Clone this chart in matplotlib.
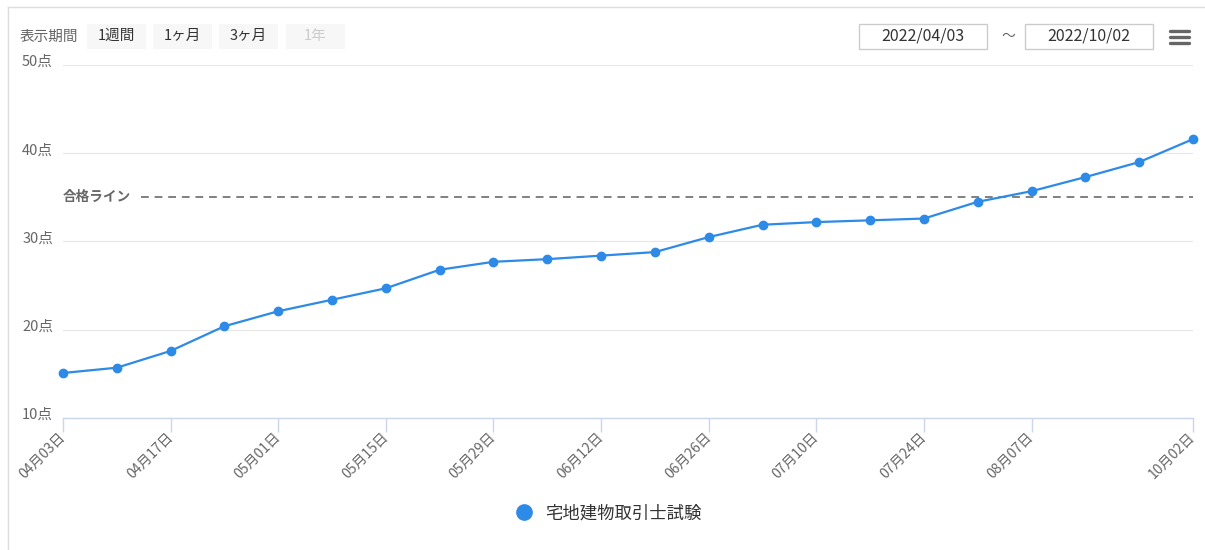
import matplotlib
matplotlib.use('Agg')
import matplotlib.pyplot as plt
from matplotlib.patches import Rectangle
from matplotlib.lines import Line2D

plt.rcParams['font.family'] = ['Noto Sans CJK JP', 'DejaVu Sans']

# data
dates = ['04月03日', '04月10日', '04月17日', '04月24日', '05月01日', '05月08日',
         '05月15日', '05月22日', '05月29日', '06月05日', '06月12日', '06月19日',
         '06月26日', '07月03日', '07月10日', '07月17日', '07月24日', '07月31日',
         '08月07日', '08月14日', '09月18日', '10月02日']
scores = [15.1, 15.7, 17.6, 20.4, 22.1, 23.4, 24.7, 26.8, 27.7, 28.0, 28.4,
          28.8, 30.5, 31.9, 32.2, 32.4, 32.6, 34.5, 35.7, 37.3, 39.0, 41.6]
label_idx = [0, 2, 4, 6, 8, 10, 12, 14, 16, 18, 21]
y_ticks = [10, 20, 30, 40, 50]
pass_line = 35
series_name = '宅地建物取引士試験'
periods = ['1週間', '1ヶ月', '3ヶ月', '1年']
start_date = '2022/04/03'
end_date = '2022/10/02'

W, H = 1205, 550
fig = plt.figure(figsize=(W / 100, H / 100), dpi=100)


def fx(px):
    return px / W


def fy(py):
    return 1 - py / H


ax = fig.add_axes([fx(63), fy(418), fx(1193) - fx(63), fy(65) - fy(418)])
blue = '#2d8ae6'
ax.plot(range(len(scores)), scores, color=blue, lw=1.6, marker='o',
        markersize=6, zorder=3, clip_on=False)
ax.set_xlim(0, len(scores) - 1)
ax.set_ylim(10, 50)
ax.set_yticks(y_ticks)
ax.set_yticklabels([])
ax.tick_params(axis='y', length=0)
ax.grid(axis='y', color='#e6e6e6', lw=0.8)
ax.set_axisbelow(True)
for s in ['top', 'right', 'left']:
    ax.spines[s].set_visible(False)
ax.spines['bottom'].set_color('#ccd6eb')
ax.spines['bottom'].set_linewidth(1)
ax.set_xticks(label_idx)
ax.set_xticklabels([dates[i] for i in label_idx], rotation=45, ha='right',
                   va='center', rotation_mode='anchor', fontsize=10,
                   color='#666666')
ax.tick_params(axis='x', length=10, color='#ccd6eb', width=1, pad=2)

for v in y_ticks:
    ax.annotate(f'{v}点', xy=(0, v), xycoords=ax.get_yaxis_transform(),
                xytext=(-10, 3), textcoords='offset pixels',
                ha='right', va='center', fontsize=10.5, color='#666666')

# passing line
ax.axhline(pass_line, xmin=(141 - 63) / 1130, color='#808080', lw=1.4,
           ls=(0, (4, 3)), zorder=2)
ax.text(0.0, pass_line, '合格ライン', fontsize=9.8, fontweight='bold',
        color='#666666', ha='left', va='center', zorder=2.5)

# legend
handle = Line2D([], [], marker='o', ls='', color=blue, markersize=11)
fig.legend([handle], [series_name], loc='center',
           bbox_to_anchor=(fx(604), fy(513)), frameon=False, fontsize=12.5,
           labelcolor='#333333', handletextpad=0.2)

# container border
fig.add_artist(Line2D([fx(8), 1], [fy(7), fy(7)], color='#dddddd', lw=1))
fig.add_artist(Line2D([fx(8), fx(8)], [fy(7), 0], color='#dddddd', lw=1))

# header controls
fig.text(fx(20), fy(37), '表示期間', fontsize=10.5, color='#666666', va='center')
btn_x = [87, 153, 219, 286]
for i, (bx, lab) in enumerate(zip(btn_x, periods)):
    fig.add_artist(Rectangle((fx(bx), fy(49)), fx(59), fy(24) - fy(49),
                             facecolor='#f7f7f7', edgecolor='none'))
    fig.text(fx(bx + 29.5), fy(36), lab, fontsize=10.5,
             color='#cccccc' if i == 3 else '#333333', ha='center', va='center')

for bx, lab in zip([859, 1025], [start_date, end_date]):
    fig.add_artist(Rectangle((fx(bx), fy(49)), fx(128), fy(24) - fy(49),
                             facecolor='white', edgecolor='#cccccc', lw=1))
    fig.text(fx(bx + 64), fy(36), lab, fontsize=11.5, color='#333333',
             ha='center', va='center')
fig.text(fx(1008), fy(36), '～', fontsize=10, color='#666666',
         ha='center', va='center')
for yy in [31, 37, 43]:
    fig.add_artist(Line2D([fx(1170), fx(1189)], [fy(yy), fy(yy)],
                          color='#666666', lw=2.4, solid_capstyle='round'))

fig.savefig('out.png', dpi=100)
